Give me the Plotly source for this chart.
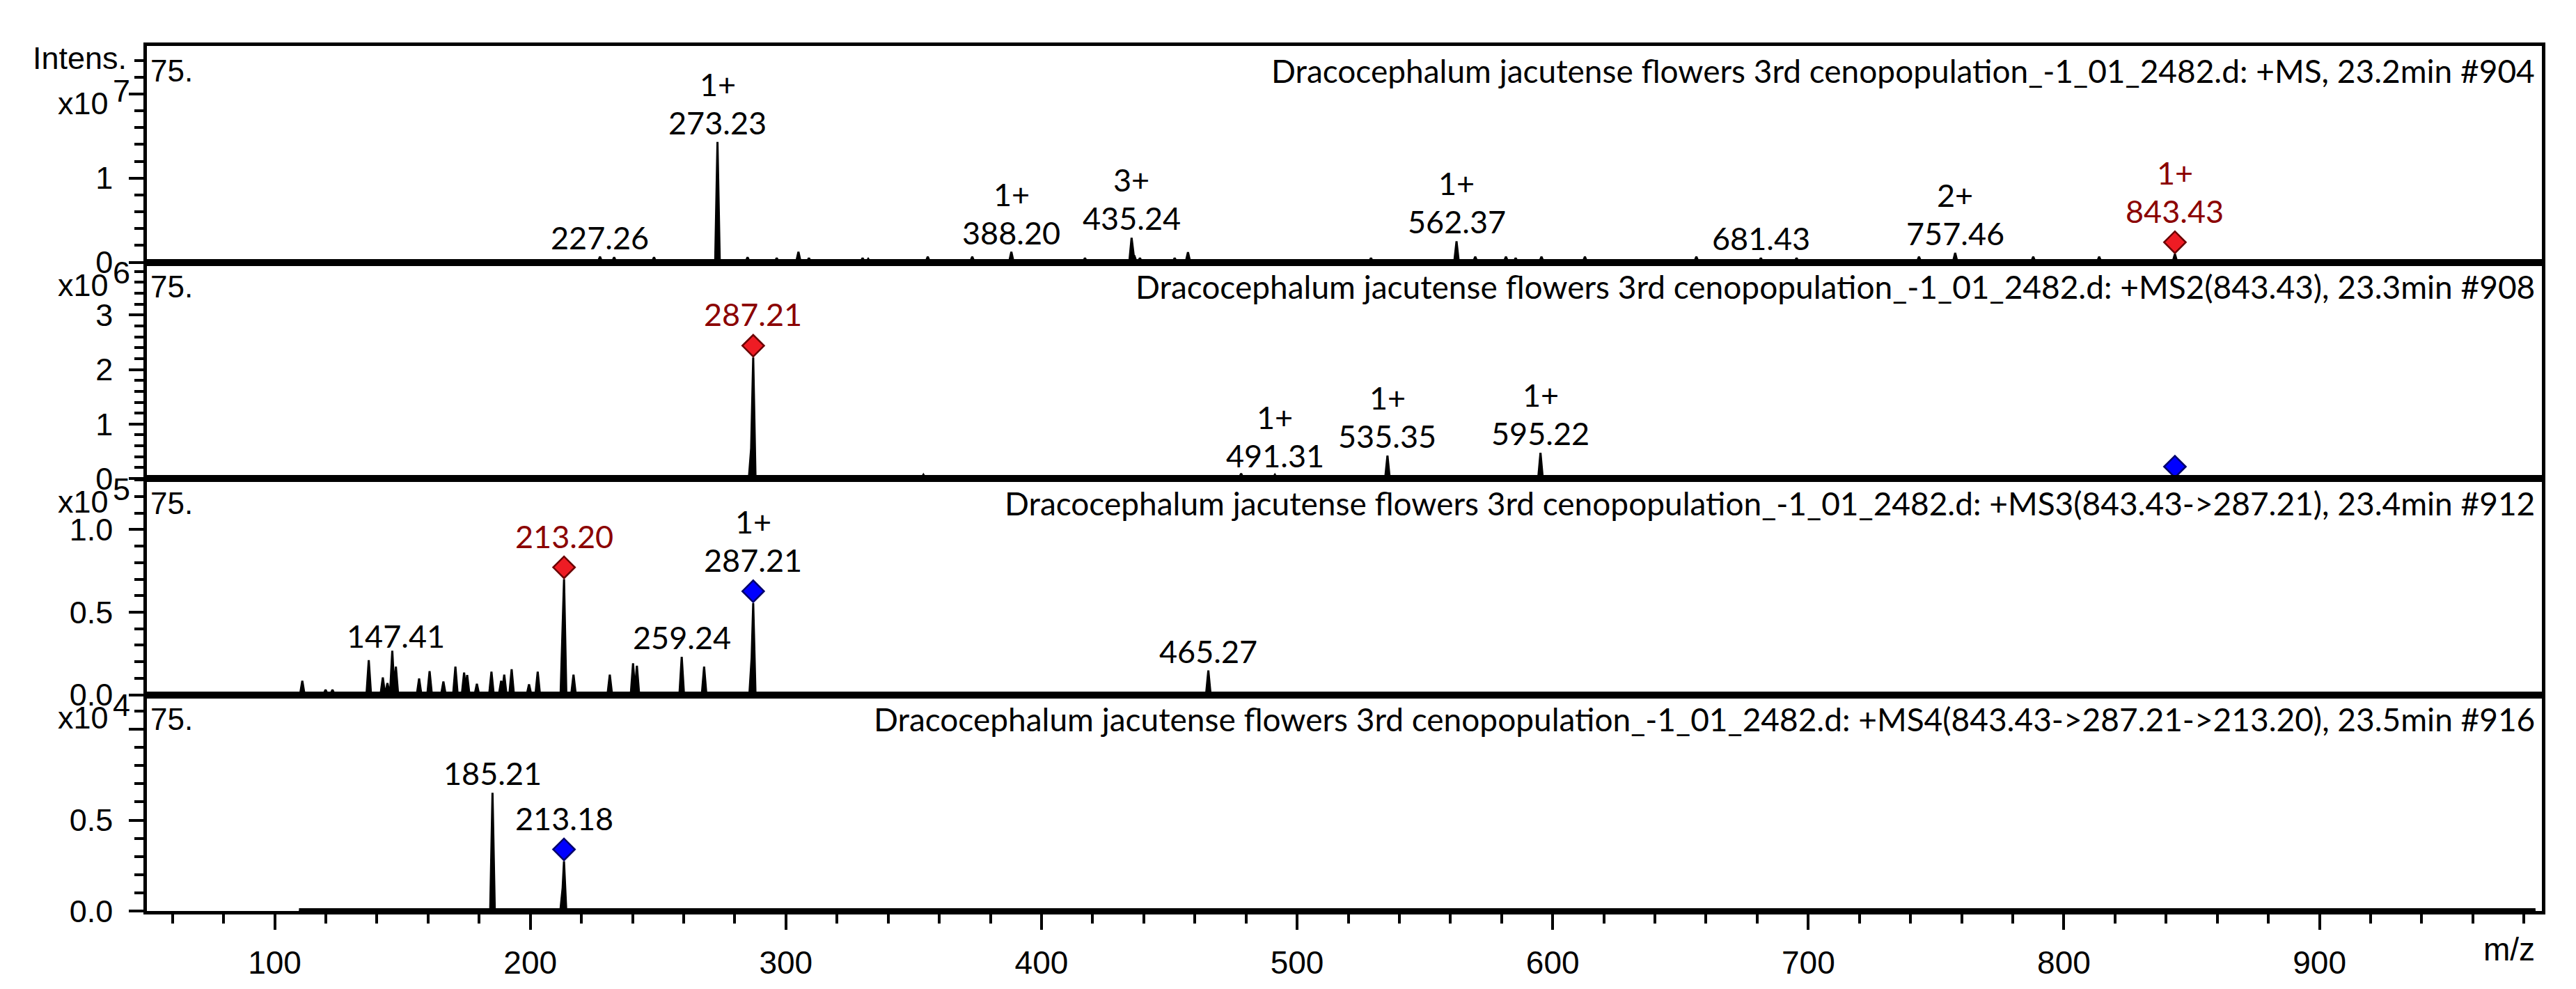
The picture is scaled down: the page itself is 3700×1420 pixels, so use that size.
import plotly.graph_objects as go
from plotly.subplots import make_subplots

# ---------------- data ----------------
x_range = [50, 987]
trace_start, trace_end = 109.5, 984.5

# Panel 1: MS
ms1_mz = [227.26, 232.8, 248.4, 273.23, 285.0, 296.4, 304.9, 309.0, 330.0, 332.2, 355.5, 372.9,
          388.20, 417.0, 435.24, 436.3, 438.5, 452.1, 457.3, 528.9, 562.37, 569.7, 581.7, 585.5,
          595.6, 612.6, 656.2, 681.43, 695.4, 743.3, 757.46, 788.0, 813.8, 843.43]
ms1_int = [0.66e6, 0.6e6, 0.6e6, 1.43e7, 0.6e6, 0.5e6, 1.24e6, 0.5e6, 0.5e6, 0.4e6, 0.66e6, 0.66e6,
           1.24e6, 0.5e6, 2.9e6, 0.8e6, 0.5e6, 0.5e6, 1.2e6, 0.5e6, 2.5e6, 0.66e6, 0.66e6, 0.5e6,
           0.66e6, 0.66e6, 0.66e6, 0.5e6, 0.5e6, 0.66e6, 1.1e6, 0.66e6, 0.66e6, 0.97e6]
ms1_lab_mz = [227.26, 273.23, 388.20, 435.24, 562.37, 681.43, 757.46, 843.43]
ms1_lab_charge = ["", "1+", "1+", "3+", "1+", "", "2+", "1+"]

# Panel 2: MS2(843.43)
ms2_mz = [286.4, 287.21, 353.8, 478.1, 491.31, 535.35, 595.22, 843.43]
ms2_int = [0.55e6, 2.22e6, 0.07e6, 0.09e6, 0.07e6, 0.42e6, 0.47e6, 0.0]
ms2_lab_mz = [287.21, 491.31, 535.35, 595.22]
ms2_lab_charge = ["", "1+", "1+", "1+"]

# Panel 3: MS3(843.43->287.21)
ms3_mz = [110.8, 119.9, 122.6, 136.8, 142.3, 144.1, 146.0, 147.41, 156.5, 160.6, 166.0, 170.7,
          174.1, 175.3, 179.1, 184.8, 188.6, 189.8, 192.7, 199.5, 202.9, 212.75, 213.20, 216.9,
          231.1, 240.2, 241.7, 259.24, 268.0, 286.6, 287.21, 465.27]
ms3_int = [0.084e5, 0.03e5, 0.03e5, 0.21e5, 0.105e5, 0.07e5, 0.267e5, 0.17e5, 0.098e5, 0.143e5,
           0.08e5, 0.17e5, 0.134e5, 0.12e5, 0.066e5, 0.14e5, 0.084e5, 0.122e5, 0.155e5, 0.063e5,
           0.14e5, 0.5e5, 0.70e5, 0.122e5, 0.122e5, 0.19e5, 0.176e5, 0.23e5, 0.17e5, 0.225e5,
           0.555e5, 0.147e5]
ms3_lab_mz = [147.41, 213.20, 259.24, 287.21, 465.27]
ms3_lab_charge = ["", "", "", "1+", ""]

# Panel 4: MS4(843.43->287.21->213.20)
ms4_mz = [185.21, 212.65, 213.18]
ms4_int = [0.65e4, 0.127e4, 0.274e4]
ms4_lab_mz = [185.21, 213.18]
ms4_lab_charge = ["", ""]

# selected precursors (red) and previous precursors (blue)
red_mz = [[843.43], [287.21], [213.20], []]
blue_mz = [[], [843.43], [287.21], [213.18]]

titles = [
    "Dracocephalum jacutense flowers 3rd cenopopulation_-1_01_2482.d: +MS, 23.2min #904",
    "Dracocephalum jacutense flowers 3rd cenopopulation_-1_01_2482.d: +MS2(843.43), 23.3min #908",
    "Dracocephalum jacutense flowers 3rd cenopopulation_-1_01_2482.d: +MS3(843.43->287.21), 23.4min #912",
    "Dracocephalum jacutense flowers 3rd cenopopulation_-1_01_2482.d: +MS4(843.43->287.21->213.20), 23.5min #916",
]
y_tops = [2.57e7, 3.97e6, 1.31e5, 1.19e4]
y_tickvals = [[0, 1e7, 2e7], [0, 1e6, 2e6, 3e6], [0, 0.5e5, 1e5], [0, 0.5e4, 1e4]]
y_ticktext = [["0", "1", ""], ["0", "1", "2", "3"], ["0.0", "0.5", "1.0"], ["0.0", "0.5", ""]]
y_minor = [2e6, 2e5, 1e4, 1e3]
y_exp = ["7", "6", "5", "4"]
x_tickvals = [100, 200, 300, 400, 500, 600, 700, 800, 900]
start_label = "75."

panels = [
    (ms1_mz, ms1_int, ms1_lab_mz, ms1_lab_charge),
    (ms2_mz, ms2_int, ms2_lab_mz, ms2_lab_charge),
    (ms3_mz, ms3_int, ms3_lab_mz, ms3_lab_charge),
    (ms4_mz, ms4_int, ms4_lab_mz, ms4_lab_charge),
]

# ---------------- styling ----------------
W, H = 3700, 1420
ML, MR, MT, MB = 203, 57, 58, 120
panel_px = (H - MT - MB) / 4
HW = 0.9  # peak half width in m/z
ARIAL = "Liberation Sans, Arial, sans-serif"
CALIBRI = "Lato, Open Sans, sans-serif"
DARKRED = "#8b0000"
LABEL_SIZE = 45
TITLE_SIZE = 46

def envelope(mzs, ints, x):
    best = 0.0
    for m, h in zip(mzs, ints):
        d = abs(x - m)
        if d < HW:
            best = max(best, h * (1 - d / HW))
    return best

fig = make_subplots(rows=4, cols=1, shared_xaxes=True, vertical_spacing=0)
annotations = []

for i, (mzs, ints, lab_mz, lab_ch) in enumerate(panels):
    row = i + 1
    yref = "y" if row == 1 else f"y{row}"
    xref = "x" if row == 1 else f"x{row}"
    ppu = panel_px / y_tops[i]  # pixels per unit

    xs = {trace_start, trace_end}
    for m in mzs:
        xs.update([m - HW, m, m + HW])
    xs = sorted(xs)
    ys = [envelope(mzs, ints, x) for x in xs]

    fig.add_trace(go.Scatter(x=[trace_start, trace_end], y=[0, 0], mode="lines",
                             line=dict(color="black", width=8), hoverinfo="skip"), row=row, col=1)
    fig.add_trace(go.Scatter(x=xs, y=ys, mode="lines", fill="tozeroy", fillcolor="black",
                             line=dict(color="black", width=3), hoverinfo="skip"), row=row, col=1)

    diamond_mz = set(red_mz[i]) | set(blue_mz[i])
    for lst, fill, edge in ((red_mz[i], "#ee1c24", "#6a0000"), (blue_mz[i], "#0000ff", "#00006a")):
        if lst:
            ym = [envelope(mzs, ints, m) + 17 / ppu for m in lst]
            fig.add_trace(go.Scatter(x=lst, y=ym, mode="markers",
                                     marker=dict(symbol="diamond", size=24, color=fill,
                                                 line=dict(color=edge, width=2.5)),
                                     hoverinfo="skip", cliponaxis=False), row=row, col=1)

    for m, ch in zip(lab_mz, lab_ch):
        local = max(envelope(mzs, ints, x) for x in [m + k * 0.25 for k in range(-10, 11)])
        base = envelope(mzs, ints, m)
        if m in diamond_mz:
            ref, off = base, 62
        else:
            ref, off = local, 28
        color = DARKRED if m in red_mz[i] else "black"
        annotations.append(dict(x=m, y=ref, xref=xref, yref=yref, text=f"{m:.2f}", showarrow=False,
                                yanchor="middle", yshift=off,
                                font=dict(family=CALIBRI, size=LABEL_SIZE, color=color)))
        if ch:
            annotations.append(dict(x=m, y=ref, xref=xref, yref=yref, text=ch, showarrow=False,
                                    yanchor="middle", yshift=off + 55,
                                    font=dict(family=CALIBRI, size=LABEL_SIZE, color=color)))

    dom = f"{yref} domain"
    annotations.append(dict(x=1, y=1, xref="paper", yref=dom, text=titles[i], showarrow=False,
                            xanchor="right", yanchor="middle", xshift=-8, yshift=-35,
                            font=dict(family=CALIBRI, size=TITLE_SIZE, color="black")))
    annotations.append(dict(x=0, y=1, xref="paper", yref=dom, text=start_label, showarrow=False,
                            xanchor="left", yanchor="middle", xshift=3, yshift=-35,
                            font=dict(family=ARIAL, size=44, color="black")))
    ys_exp = -82 if row == 1 else -33
    annotations.append(dict(x=0, y=1, xref="paper", yref=dom, text="x10", showarrow=False,
                            xanchor="right", yanchor="middle", xshift=-53, yshift=ys_exp,
                            font=dict(family=ARIAL, size=45, color="black")))
    annotations.append(dict(x=0, y=1, xref="paper", yref=dom, text=y_exp[i], showarrow=False,
                            xanchor="left", yanchor="middle", xshift=-51, yshift=ys_exp + 18,
                            font=dict(family=ARIAL, size=45, color="black")))

    fig.update_yaxes(range=[0, y_tops[i]], tickmode="array", tickvals=y_tickvals[i],
                     ticktext=y_ticktext[i], ticks="outside", ticklen=21, tickwidth=4,
                     tickcolor="black", showline=True, mirror=True, linewidth=4.5, linecolor="black",
                     showgrid=False, zeroline=False, ticklabelstandoff=14,
                     tickfont=dict(family=ARIAL, size=45, color="black"),
                     minor=dict(tickmode="linear", tick0=0, dtick=y_minor[i], ticks="outside",
                                ticklen=13, tickwidth=4, tickcolor="black", showgrid=False),
                     row=row, col=1)
    if row < 4:
        fig.update_xaxes(range=x_range, showline=True, mirror=True, linewidth=4.5, linecolor="black",
                         ticks="", showticklabels=False, showgrid=False, zeroline=False, row=row, col=1)
    else:
        fig.update_xaxes(range=x_range, showline=True, mirror=True, linewidth=4.5, linecolor="black",
                         tickmode="array", tickvals=x_tickvals, ticks="outside", ticklen=22,
                         tickwidth=3.5, tickcolor="black", showgrid=False, zeroline=False,
                         ticklabelstandoff=8, tickfont=dict(family=ARIAL, size=46, color="black"),
                         minor=dict(tickmode="linear", tick0=0, dtick=20, ticks="outside", ticklen=13,
                                    tickwidth=3.5, tickcolor="black", showgrid=False),
                         row=row, col=1)

annotations.append(dict(x=0, y=1, xref="paper", yref="paper", text="Intens.", showarrow=False,
                        xanchor="right", yanchor="middle", xshift=-27, yshift=-17,
                        font=dict(family=ARIAL, size=45, color="black")))
annotations.append(dict(x=1, y=0, xref="paper", yref="paper", text="m/z", showarrow=False,
                        xanchor="right", yanchor="middle", xshift=-8, yshift=-55,
                        font=dict(family=ARIAL, size=46, color="black")))

fig.update_layout(width=W, height=H, margin=dict(l=ML, r=MR, t=MT, b=MB),
                  plot_bgcolor="white", paper_bgcolor="white", showlegend=False,
                  annotations=annotations)
fig.write_html("out.html")
